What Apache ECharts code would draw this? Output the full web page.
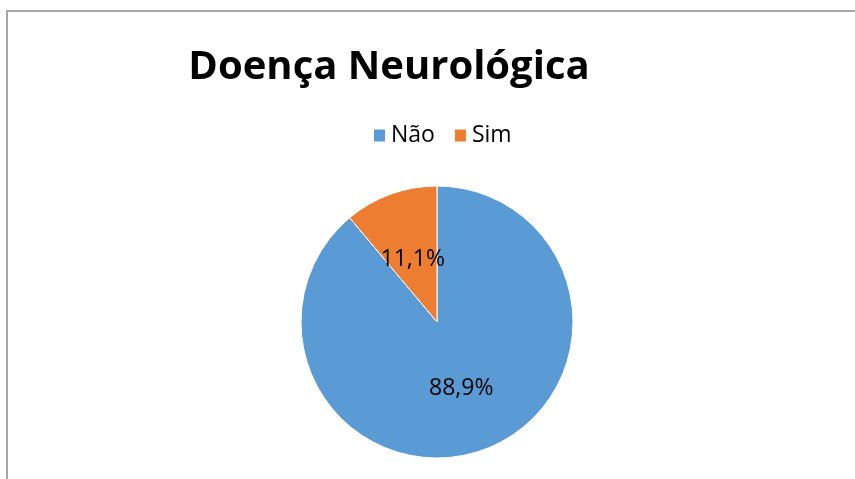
<!DOCTYPE html>
<html><head><meta charset="utf-8">
<script src="https://cdn.jsdelivr.net/npm/echarts@6/dist/echarts.min.js"></script>
<style>
html,body{margin:0;padding:0;background:#fff;}
#frame{position:absolute;left:6px;top:10px;width:849px;height:469px;border-left:2px solid #a6a6a6;border-top:2px solid #a6a6a6;box-sizing:border-box;}
#chart{position:absolute;left:0;top:0;width:855px;height:479px;}
</style></head>
<body>
<div id="frame"></div>
<div id="chart"></div>
<script>
const titleText = 'Doença Neurológica';
const categories = ['Não', 'Sim'];
const values = [88.9, 11.1];
const colors = ['#5B9BD5', '#ED7D31'];

const chart = echarts.init(document.getElementById('chart'));
chart.setOption({
  animation: false,
  title: {
    text: titleText,
    left: 384, textAlign: 'center', top: 43,
    textStyle: {fontFamily: 'Open Sans', fontWeight: 'bold', fontSize: 40, color: '#000'}
  },
  legend: {
    data: categories,
    left: 367, top: 119,
    itemWidth: 13, itemHeight: 14, itemGap: 18,
    icon: 'rect',
    textStyle: {fontFamily: 'Open Sans', fontSize: 23, color: '#000', padding: [0,0,0,0]}
  },
  series: [{
    type: 'pie',
    center: [437, 322],
    radius: 136,
    startAngle: 90,
    clockwise: true,
    data: categories.map((c, i) => ({name: c, value: values[i], itemStyle: {color: colors[i]},
      label: i === 1 ? {offset: [0, 4]} : {}})),
    itemStyle: {borderColor: '#fff', borderWidth: 1},
    label: {
      position: 'inside',
      formatter: p => p.value.toFixed(1).replace('.', ',') + '%',
      fontFamily: 'Open Sans', fontSize: 23, color: '#000'
    },
    labelLine: {show: false}
  }]
});
</script>
</body></html>
